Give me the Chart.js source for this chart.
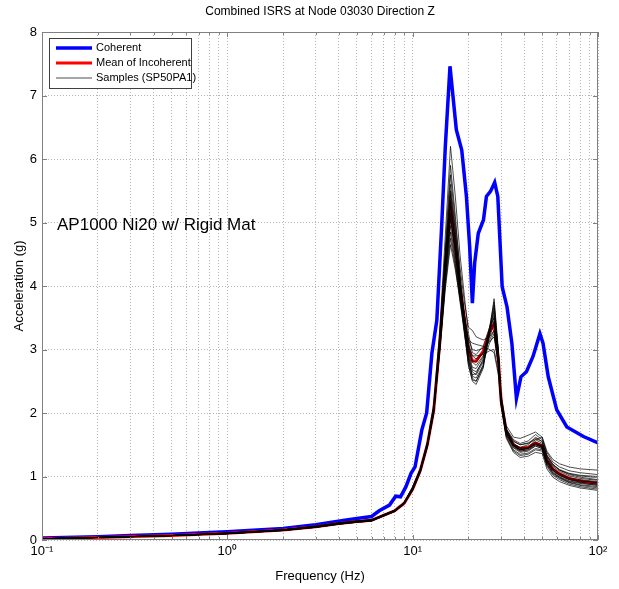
<!DOCTYPE html>
<html>
<head>
<meta charset="utf-8">
<title>Combined ISRS at Node 03030 Direction Z</title>
<script src="https://cdn.jsdelivr.net/npm/chart.js@4.4.0/dist/chart.umd.min.js"></script>
<style>
    html, body { margin: 0; padding: 0; background: #fff; }
    #wrap { width: 619px; height: 589px; }
</style>
</head>
<body>
<div id="wrap"><canvas id="isrs" width="619" height="589"></canvas></div>
<script>
const chartTitle = 'Combined ISRS at Node 03030 Direction Z'
const noteText = 'AP1000 Ni20 w/ Rigid Mat'
const seriesNames = ['Coherent', 'Mean of Incoherent', 'Samples (SP50PA1)']

// log axis ticks
const xGridValues = [0.1, 0.2, 0.3, 0.4, 0.5, 0.6, 0.7, 0.8, 0.9,
    1, 2, 3, 4, 5, 6, 7, 8, 9,
    10, 20, 30, 40, 50, 60, 70, 80, 90, 100]
const xLabelValues = [0.1, 1, 10, 100]
const xLabelTexts = ['10\u207B\u00B9', '10\u2070', '10\u00B9', '10\u00B2']

// coherent curve (own frequency grid)
const coherentFreq = [0.1, 0.2, 0.3, 0.5, 0.7, 1, 2, 3, 4.3, 5, 6, 6.6, 7.5, 8.1, 8.6, 9.2, 9.8, 10.3, 11.2, 11.9,
    12.7, 13.5, 14.3, 15, 15.9, 17.2, 18.4, 19.5, 20.3, 21, 21.6, 22.6, 24.1, 25, 26.3, 27.7, 28.8, 30.4,
    32.3, 34.3, 36.3, 38.4, 41.1, 44.6, 48.6, 50.5, 53.9, 59.9, 67.9, 83.5, 100]
const coherent = [0.03, 0.05, 0.07, 0.09, 0.11, 0.13, 0.18, 0.24, 0.31, 0.34, 0.37, 0.46, 0.55, 0.69, 0.68, 0.84, 1.05, 1.15, 1.73, 2.0,
    2.94, 3.46, 4.88, 6.19, 7.46, 6.46, 6.14, 5.41, 4.62, 3.73, 4.36, 4.83, 5.04, 5.41, 5.49, 5.63, 5.41, 3.99,
    3.67, 3.1, 2.23, 2.57, 2.65, 2.89, 3.25, 3.1, 2.57, 2.05, 1.78, 1.63, 1.53]

// incoherent grid, mean and samples
const freq = [0.1, 0.2, 0.5, 1, 2, 3, 4, 5, 6, 7, 8, 9, 10, 11, 12, 13, 14, 15, 16, 17, 18, 19, 20, 21, 22,
    24, 26, 27.5, 29, 30, 32, 35, 38, 42, 46, 50, 53, 57, 62, 70, 80, 100]
const meanIncoherent = [0.02, 0.04, 0.07, 0.105, 0.157, 0.21, 0.26, 0.29, 0.31, 0.39, 0.46, 0.58, 0.8, 1.1, 1.5, 2.05, 3.1, 4.3, 5.25, 4.6, 4.0, 3.5, 3.0, 2.82, 2.82,
    2.97, 3.28, 3.4, 2.85, 2.2, 1.7, 1.5, 1.44, 1.46, 1.53, 1.48, 1.26, 1.12, 1.04, 0.97, 0.93, 0.89]

const sample01 = [0.02, 0.04, 0.07, 0.10, 0.15, 0.20, 0.25, 0.28, 0.30, 0.38, 0.45, 0.57, 0.80, 1.12, 1.55, 2.15, 3.3, 4.8, 6.2, 5.4, 4.5, 3.85, 3.25, 2.95, 2.92, 3.05, 3.35, 3.5, 2.95, 2.25, 1.72, 1.48, 1.40, 1.42, 1.50, 1.46, 1.22, 1.08, 1.00, 0.93, 0.90, 0.86]
const sample02 = [0.02, 0.04, 0.07, 0.11, 0.16, 0.21, 0.27, 0.30, 0.32, 0.40, 0.47, 0.59, 0.84, 1.12, 1.52, 2.1, 3.2, 4.6, 5.9, 5.1, 4.2, 3.5, 2.85, 2.55, 2.5, 2.75, 3.3, 3.8, 3.0, 2.3, 1.75, 1.5, 1.42, 1.45, 1.58, 1.62, 1.34, 1.2, 1.1, 1.03, 0.99, 0.95]
const sample03 = [0.02, 0.04, 0.07, 0.10, 0.16, 0.21, 0.26, 0.29, 0.31, 0.39, 0.47, 0.59, 0.83, 1.1, 1.5, 2.1, 3.2, 4.5, 5.75, 5.0, 4.3, 3.75, 3.35, 3.3, 3.2, 3.15, 3.2, 3.3, 2.8, 2.25, 1.8, 1.62, 1.6, 1.65, 1.7, 1.62, 1.4, 1.27, 1.2, 1.15, 1.12, 1.10]
const sample04 = [0.02, 0.04, 0.07, 0.10, 0.15, 0.20, 0.25, 0.28, 0.30, 0.38, 0.45, 0.57, 0.79, 1.08, 1.48, 2.05, 3.1, 4.45, 5.6, 4.9, 4.1, 3.4, 2.85, 2.6, 2.62, 2.85, 3.35, 3.6, 2.9, 2.15, 1.62, 1.4, 1.33, 1.35, 1.42, 1.4, 1.16, 1.02, 0.95, 0.88, 0.84, 0.80]
const sample05 = [0.02, 0.04, 0.07, 0.11, 0.16, 0.21, 0.26, 0.29, 0.31, 0.39, 0.46, 0.58, 0.82, 1.1, 1.5, 2.08, 3.15, 4.4, 5.45, 4.8, 4.1, 3.55, 3.05, 2.8, 2.75, 2.9, 3.25, 3.45, 2.85, 2.2, 1.7, 1.5, 1.44, 1.46, 1.54, 1.5, 1.27, 1.13, 1.05, 0.98, 0.95, 0.92]
const sample06 = [0.02, 0.04, 0.07, 0.10, 0.15, 0.21, 0.26, 0.29, 0.31, 0.39, 0.46, 0.58, 0.81, 1.1, 1.5, 2.05, 3.05, 4.3, 5.35, 4.7, 3.9, 3.3, 2.75, 2.5, 2.45, 2.7, 3.3, 3.7, 2.95, 2.2, 1.68, 1.45, 1.38, 1.4, 1.48, 1.44, 1.2, 1.06, 0.98, 0.91, 0.87, 0.84]
const sample07 = [0.02, 0.04, 0.07, 0.11, 0.16, 0.22, 0.27, 0.30, 0.32, 0.40, 0.47, 0.59, 0.83, 1.11, 1.5, 2.05, 3.1, 4.25, 5.25, 4.65, 4.0, 3.55, 3.1, 2.9, 2.85, 2.95, 3.15, 3.3, 2.8, 2.2, 1.72, 1.55, 1.5, 1.52, 1.58, 1.52, 1.32, 1.18, 1.1, 1.04, 1.01, 0.98]
const sample08 = [0.02, 0.04, 0.07, 0.10, 0.16, 0.21, 0.26, 0.29, 0.31, 0.39, 0.46, 0.58, 0.8, 1.09, 1.49, 2.03, 3.05, 4.2, 5.15, 4.55, 3.95, 3.45, 2.95, 2.72, 2.7, 2.88, 3.3, 3.55, 2.9, 2.2, 1.7, 1.48, 1.42, 1.44, 1.52, 1.48, 1.24, 1.1, 1.02, 0.95, 0.91, 0.88]
const sample09 = [0.02, 0.04, 0.07, 0.105, 0.16, 0.21, 0.26, 0.29, 0.31, 0.39, 0.46, 0.58, 0.82, 1.1, 1.5, 2.05, 3.05, 4.15, 5.05, 4.55, 4.0, 3.55, 3.15, 3.0, 2.98, 3.02, 3.12, 3.2, 2.75, 2.18, 1.75, 1.58, 1.52, 1.56, 1.66, 1.58, 1.38, 1.23, 1.15, 1.09, 1.06, 1.03]
const sample10 = [0.02, 0.04, 0.07, 0.10, 0.15, 0.20, 0.25, 0.28, 0.30, 0.38, 0.45, 0.56, 0.78, 1.06, 1.46, 2.0, 3.0, 4.1, 4.95, 4.4, 3.8, 3.25, 2.8, 2.58, 2.55, 2.75, 3.35, 3.75, 2.95, 2.15, 1.6, 1.38, 1.3, 1.32, 1.38, 1.36, 1.12, 0.99, 0.92, 0.86, 0.82, 0.78]
const sample11 = [0.02, 0.04, 0.07, 0.11, 0.16, 0.21, 0.26, 0.29, 0.31, 0.39, 0.46, 0.58, 0.81, 1.1, 1.5, 2.05, 3.0, 4.05, 4.85, 4.35, 3.85, 3.4, 3.05, 2.9, 2.9, 2.92, 2.98, 3.0, 2.65, 2.15, 1.72, 1.52, 1.45, 1.45, 1.5, 1.46, 1.26, 1.12, 1.04, 0.97, 0.93, 0.90]
const sample12 = [0.02, 0.04, 0.07, 0.10, 0.16, 0.21, 0.26, 0.29, 0.31, 0.39, 0.46, 0.58, 0.8, 1.08, 1.48, 2.02, 3.0, 4.0, 4.75, 4.3, 3.75, 3.3, 2.9, 2.68, 2.65, 2.82, 3.2, 3.4, 2.85, 2.2, 1.7, 1.5, 1.46, 1.5, 1.62, 1.55, 1.3, 1.16, 1.08, 1.01, 0.97, 0.94]
const sample13 = [0.02, 0.04, 0.07, 0.10, 0.15, 0.20, 0.25, 0.28, 0.30, 0.38, 0.45, 0.57, 0.79, 1.08, 1.48, 2.05, 3.1, 4.2, 5.1, 4.5, 3.9, 3.4, 3.0, 2.82, 2.8, 2.95, 3.3, 3.5, 2.85, 2.15, 1.64, 1.42, 1.35, 1.37, 1.44, 1.42, 1.18, 1.04, 0.97, 0.9, 0.86, 0.82]
const sample14 = [0.02, 0.04, 0.07, 0.11, 0.16, 0.22, 0.27, 0.30, 0.32, 0.40, 0.47, 0.59, 0.83, 1.12, 1.52, 2.08, 3.15, 4.4, 5.5, 4.85, 4.1, 3.45, 2.9, 2.65, 2.6, 2.8, 3.1, 3.25, 2.75, 2.2, 1.75, 1.56, 1.5, 1.53, 1.6, 1.55, 1.33, 1.19, 1.11, 1.05, 1.02, 1.00]
const sample15 = [0.02, 0.04, 0.07, 0.10, 0.16, 0.21, 0.26, 0.29, 0.31, 0.39, 0.46, 0.58, 0.8, 1.08, 1.47, 2.0, 2.95, 3.95, 4.65, 4.25, 3.8, 3.45, 3.15, 3.1, 3.08, 3.05, 3.0, 2.95, 2.6, 2.1, 1.65, 1.46, 1.4, 1.42, 1.48, 1.44, 1.2, 1.06, 0.99, 0.92, 0.89, 0.86]
const sample16 = [0.02, 0.04, 0.07, 0.105, 0.16, 0.21, 0.26, 0.29, 0.31, 0.39, 0.46, 0.58, 0.81, 1.1, 1.5, 2.05, 3.1, 4.3, 5.3, 4.65, 3.9, 3.3, 2.75, 2.52, 2.5, 2.72, 3.25, 3.65, 2.95, 2.2, 1.7, 1.48, 1.42, 1.44, 1.52, 1.48, 1.24, 1.1, 1.02, 0.95, 0.93, 0.91]

const samples = [sample01, sample02, sample03, sample04, sample05, sample06, sample07, sample08,
    sample09, sample10, sample11, sample12, sample13, sample14, sample15, sample16]

const FONT = 'Liberation Sans, Arial, Helvetica, sans-serif'
const AXIS_COLOR = '#808080'

const toPoints = (xs, ys) => ys.map((y, i) => ({x: xs[i], y: y}))

let datasets = []

samples.forEach((s, i) => {
    datasets.push({
        label: i === 0 ? seriesNames[2] : '',
        data: toPoints(freq, s),
        borderColor: '#000000',
        borderWidth: 0.7,
        pointRadius: 0,
        tension: 0
    })
})

datasets.push({
    label: seriesNames[1],
    data: toPoints(freq, meanIncoherent),
    borderColor: '#ff0000',
    borderWidth: 3,
    pointRadius: 0,
    tension: 0
})

datasets.push({
    label: seriesNames[0],
    data: toPoints(coherentFreq, coherent),
    borderColor: '#0000ff',
    borderWidth: 3.5,
    pointRadius: 0,
    tension: 0
})

// title, note, legend, box and inward ticks
const extras = {
    id: 'extras',
    afterDraw(chart) {
        const ctx = chart.ctx,
            area = chart.chartArea,
            xs = chart.scales.x,
            ys = chart.scales.y

        ctx.save()

        // box
        ctx.strokeStyle = AXIS_COLOR
        ctx.lineWidth = 1
        ctx.strokeRect(area.left + 0.5, area.top + 0.5, area.right - area.left - 1, area.bottom - area.top - 1)

        // inward ticks
        ctx.beginPath()
        xGridValues.forEach(v => {
            let px = Math.round(xs.getPixelForValue(v)) + 0.5,
                len = xLabelValues.includes(v) ? 5 : 3
            ctx.moveTo(px, area.bottom)
            ctx.lineTo(px, area.bottom - len)
            ctx.moveTo(px, area.top)
            ctx.lineTo(px, area.top + len)
        })
        ys.ticks.forEach(t => {
            let py = Math.round(ys.getPixelForValue(t.value)) + 0.5
            ctx.moveTo(area.left, py)
            ctx.lineTo(area.left + 5, py)
            ctx.moveTo(area.right, py)
            ctx.lineTo(area.right - 5, py)
        })
        ctx.stroke()

        // title
        ctx.fillStyle = '#000'
        ctx.font = '12px ' + FONT
        ctx.textAlign = 'center'
        ctx.textBaseline = 'middle'
        ctx.fillText(chartTitle, (area.left + area.right) / 2, 12)

        // note
        ctx.font = '17px ' + FONT
        ctx.textAlign = 'left'
        ctx.fillText(noteText, area.left + 15, 225)

        // legend
        let lx = area.left + 7,
            ly = area.top + 6
        ctx.fillStyle = '#fff'
        ctx.fillRect(lx, ly, 142, 50)
        ctx.strokeStyle = '#404040'
        ctx.strokeRect(lx + 0.5, ly + 0.5, 142, 50)

        const entries = [
            {text: seriesNames[0], color: '#0000ff', width: 3.5},
            {text: seriesNames[1], color: '#ff0000', width: 3},
            {text: seriesNames[2], color: '#000000', width: 0.7}
        ]
        ctx.font = '11px ' + FONT
        entries.forEach((e, i) => {
            let y = ly + 10 + i * 15
            ctx.strokeStyle = e.color
            ctx.lineWidth = e.width
            ctx.beginPath()
            ctx.moveTo(lx + 7, y)
            ctx.lineTo(lx + 43, y)
            ctx.stroke()
            ctx.fillStyle = '#000'
            ctx.fillText(e.text, lx + 47, y)
        })

        ctx.restore()
    }
}

const chart = new Chart(document.getElementById('isrs'), {
    type: 'line',
    data: {datasets: datasets},
    options: {
        responsive: false,
        animation: false,
        layout: {padding: {top: 32, right: 21, left: 0, bottom: 0}},
        plugins: {
            legend: {display: false},
            title: {display: false},
            tooltip: {enabled: false}
        },
        scales: {
            x: {
                type: 'logarithmic',
                min: 0.1,
                max: 100,
                afterBuildTicks: scale => {
                    scale.ticks = xGridValues.map(v => ({value: v, major: xLabelValues.includes(v)}))
                },
                afterFit: scale => {
                    scale.height = 49
                },
                ticks: {
                    autoSkip: false,
                    maxRotation: 0,
                    padding: 4,
                    color: '#000',
                    font: {family: FONT, size: 13},
                    callback: v => {
                        let i = xLabelValues.indexOf(v)
                        return i >= 0 ? xLabelTexts[i] : ''
                    }
                },
                grid: {
                    color: '#b4b4b4',
                    lineWidth: 1,
                    drawTicks: false
                },
                border: {display: false, dash: [1, 2]},
                title: {
                    display: true,
                    text: 'Frequency (Hz)',
                    color: '#000',
                    font: {family: FONT, size: 13},
                    padding: {top: 4, bottom: 5}
                }
            },
            y: {
                min: 0,
                max: 8,
                afterFit: scale => {
                    scale.width = 42
                },
                ticks: {
                    stepSize: 1,
                    padding: 5,
                    color: '#000',
                    font: {family: FONT, size: 13}
                },
                grid: {
                    color: '#b4b4b4',
                    lineWidth: 1,
                    drawTicks: false
                },
                border: {display: false, dash: [1, 2]},
                title: {
                    display: true,
                    text: 'Acceleration (g)',
                    color: '#000',
                    font: {family: FONT, size: 13},
                    padding: {top: 12, bottom: 2}
                }
            }
        }
    },
    plugins: [extras]
})
</script>
</body>
</html>
